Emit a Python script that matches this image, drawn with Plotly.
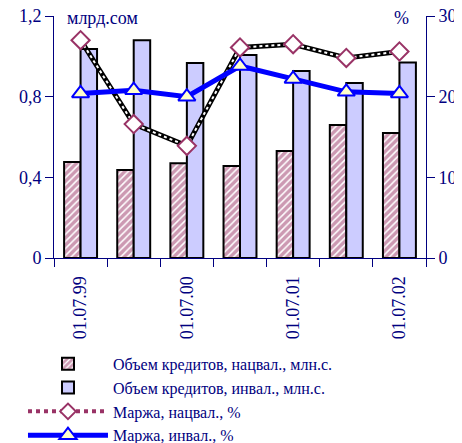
import plotly.graph_objects as go

dates = ['01.07.99', '01.01.00', '01.07.00', '01.01.01', '01.07.01', '01.01.02', '01.07.02']
tick_labels = ['01.07.99', '', '01.07.00', '', '01.07.01', '', '01.07.02']

credit_nat = [0.476, 0.436, 0.47, 0.456, 0.53, 0.66, 0.62]
credit_inv = [1.036, 1.08, 0.967, 1.006, 0.927, 0.868, 0.97]
margin_nat = [27.0, 16.6, 13.9, 26.1, 26.5, 24.8, 25.6]
margin_inv = [20.4, 20.8, 20.0, 23.8, 22.2, 20.6, 20.4]

navy = '#000080'
maroon = '#993366'
font = 'Liberation Serif'

xs = list(range(len(dates)))

fig = go.Figure()

fig.add_trace(go.Bar(
	x=xs, y=credit_nat, name='Объем кредитов, нацвал., млн.с.',
	marker=dict(color='white', line=dict(color='black', width=2),
		pattern=dict(shape='/', fgcolor=maroon, bgcolor='white', size=5, solidity=0.7)),
))
fig.add_trace(go.Bar(
	x=xs, y=credit_inv, name='Объем кредитов, инвал., млн.с.',
	marker=dict(color='#CCCCFF', line=dict(color='black', width=2)),
))

# chain-like line: black base with white dots on top
fig.add_trace(go.Scatter(
	x=xs, y=margin_nat, yaxis='y2', mode='lines',
	line=dict(color='black', width=5), showlegend=False, hoverinfo='skip',
))
fig.add_trace(go.Scatter(
	x=xs, y=margin_nat, yaxis='y2', mode='lines',
	line=dict(color='white', width=2, dash='dot'), showlegend=False, hoverinfo='skip',
))
fig.add_trace(go.Scatter(
	x=xs, y=margin_nat, yaxis='y2', mode='markers', showlegend=False,
	marker=dict(symbol='diamond', size=14, color='white', line=dict(color=maroon, width=2)),
))
# legend entry for the chain line
fig.add_trace(go.Scatter(
	x=[None], y=[None], yaxis='y2', mode='lines+markers', name='Маржа, нацвал., %',
	line=dict(color=maroon, width=4, dash='dot'),
	marker=dict(symbol='diamond', size=12, color='white', line=dict(color=maroon, width=2)),
))

fig.add_trace(go.Scatter(
	x=xs, y=margin_inv, yaxis='y2', mode='lines+markers', name='Маржа, инвал., %',
	line=dict(color='#0000FF', width=5),
	marker=dict(symbol='triangle-up', size=15, color='#FFFFCC', line=dict(color='#0000FF', width=2)),
))

# page body has an 8px margin, so the figure is sized 8px smaller
fig.update_layout(
	width=454, height=435,
	margin=dict(l=46, r=36, t=8, b=185, autoexpand=False),
	paper_bgcolor='white', plot_bgcolor='white',
	font=dict(family=font, size=18, color=navy),
	barmode='group', bargap=0.38, bargroupgap=0,
	xaxis=dict(
		range=[-0.5, len(dates) - 0.5], tickmode='array', tickvals=xs, ticktext=tick_labels,
		ticks='', ticklabelstandoff=10,
		minor=dict(tick0=-0.5, dtick=1, ticks='outside', ticklen=8, tickcolor=navy),
		tickangle=-90, showline=True, linecolor=navy, linewidth=1,
		showgrid=False, zeroline=False,
	),
	yaxis=dict(
		range=[0, 1.2], tickvals=[0, 0.4, 0.8, 1.2], ticktext=['0', '0,4', '0,8', '1,2'],
		ticks='outside', ticklen=8, ticklabeloverflow='allow',
		tickcolor=navy, showline=True, linecolor=navy, showgrid=False, zeroline=False,
	),
	yaxis2=dict(
		range=[0, 30], dtick=10, overlaying='y', side='right', ticks='outside',
		ticklen=8, tickcolor=navy, showline=True, linecolor=navy, ticklabeloverflow='allow',
		showgrid=False, zeroline=False,
	),
	legend=dict(
		xref='container', yref='container',
		x=0.033, xanchor='left', y=0.221, yanchor='top', orientation='v',
		font=dict(size=16, color=navy), itemwidth=80, tracegroupgap=0,
		bgcolor='rgba(0,0,0,0)',
	),
	annotations=[
		dict(text='млрд.сом', xref='paper', yref='paper', x=0.03, y=0.99,
			xanchor='left', yanchor='middle', showarrow=False, font=dict(size=18, color=navy)),
		dict(text='%', xref='paper', yref='paper', x=0.933, y=0.99,
			xanchor='center', yanchor='middle', showarrow=False, font=dict(size=18, color=navy)),
	],
)

fig.write_html('out.html')
